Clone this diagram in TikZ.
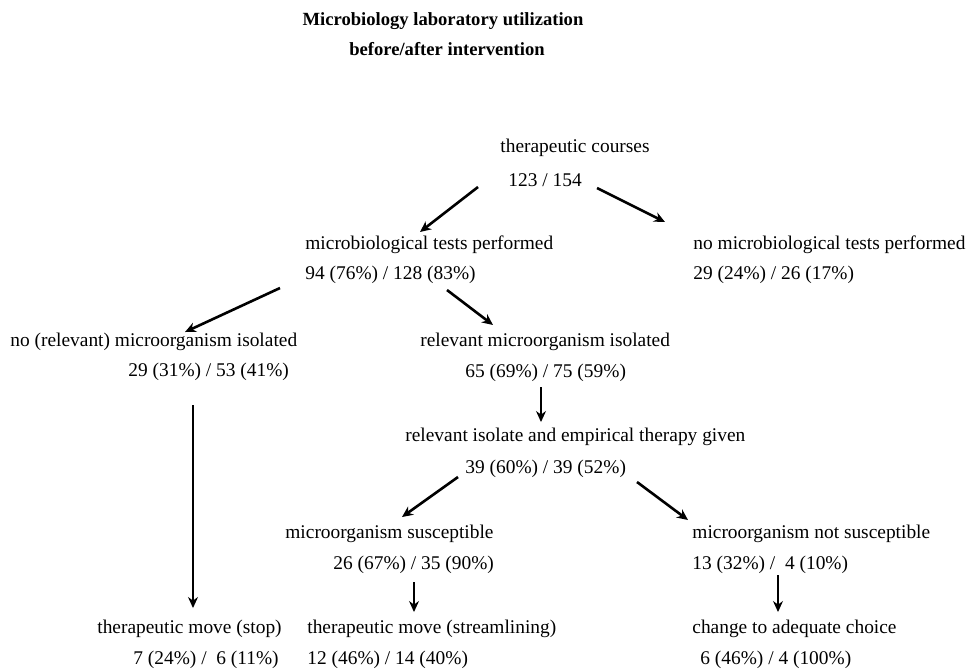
\documentclass[tikz,border=0pt]{standalone}
\usepackage{fontspec}
\setmainfont{Liberation Serif}
\usetikzlibrary{arrows.meta}

\begin{document}
\begin{tikzpicture}[x=0.5pt,y=-0.5pt,>={Stealth[length=5.5pt,width=5pt]},
        txt/.style={anchor=west,inner sep=0pt,font=\fontsize{9.7}{11}\selectfont},
        ttl/.style={inner sep=0pt,font=\fontsize{9.3}{11}\selectfont\bfseries},
        fat/.style={->,line width=1.3pt},
        thin/.style={->,line width=0.6pt}]
        \useasboundingbox (0,0) rectangle (979,671);
        	\node[ttl]  (ttl1) at (443,21)  {Microbiology laboratory utilization};
        	\node[ttl]  (ttl2) at (447,49)  {before/after intervention};

        	\node[txt]  (tc)   at (500,148) {therapeutic courses};
        	\node[txt]  (tcn)  at (508,180) {123 / 154};

           \node[txt]  (mtp)  at (305,245) {microbiological tests performed};
           \node[txt]  (mtpn) at (305,275) {94 (76\%) / 128 (83\%)};
           \node[txt]  (nmtp) at (693,245) {no microbiological tests performed};
           \node[txt]  (nmtpn) at (693,275) {29 (24\%) / 26 (17\%)};

           \node[txt]  (nrm)  at (10,342)  {no (relevant) microorganism isolated};
           \node[txt]  (nrmn) at (128,372) {29 (31\%) / 53 (41\%)};
           \node[txt]  (rmi)  at (420,342) {relevant microorganism isolated};
           \node[txt]  (rmin) at (465,373) {65 (69\%) / 75 (59\%)};

           \node[txt]  (rie)  at (405,437) {relevant isolate and empirical therapy given};
           \node[txt]  (rien) at (465,469) {39 (60\%) / 39 (52\%)};

           \node[txt]  (ms)   at (285,534) {microorganism susceptible};
           \node[txt]  (msn)  at (333,565) {26 (67\%) / 35 (90\%)};
           \node[txt]  (mns)  at (692,534) {microorganism not susceptible};
           \node[txt]  (mnsn) at (692,565) {13 (32\%) /\ \ 4 (10\%)};

           \node[txt]  (tms)  at (97,629)  {therapeutic move (stop)};
           \node[txt]  (tmsn) at (133,660) {7 (24\%) /\ \ 6 (11\%)};
           \node[txt]  (tmst) at (307,629) {therapeutic move (streamlining)};
           \node[txt]  (tmstn) at (307,660) {12 (46\%) / 14 (40\%)};
           \node[txt]  (cac)  at (692,629) {change to adequate choice};
           \node[txt]  (cacn) at (700,660) {6 (46\%) / 4 (100\%)};

  			% branches
  			\draw[fat] ([shift={(-30,7)}]tcn.west) -- ([shift={(115,-13)}]mtp.west);
  			\draw[fat] ([shift={(89,8)}]tcn.west) -- ([shift={(-28,-23)}]nmtp.west);
  			\draw[fat] ([shift={(-25,13)}]mtpn.west) -- ([shift={(175,-10)}]nrm.west);
  			\draw[fat] ([shift={(142,15)}]mtpn.west) -- ([shift={(73,-17)}]rmi.west);
  			\draw[thin] ([shift={(76,14)}]rmin.west) -- ([shift={(136,-15)}]rie.west);
  			\draw[fat] ([shift={(-7,8)}]rien.west) -- ([shift={(117,-17)}]ms.west);
  			\draw[fat] ([shift={(172,13)}]rien.west) -- ([shift={(-4,-14)}]mns.west);
  			% outcomes
  			\draw[thin] ([shift={(65,33)}]nrmn.west) -- ([shift={(96,-21)}]tms.west);
  			\draw[thin] ([shift={(81,17)}]msn.west) -- ([shift={(107,-17)}]tmst.west);
  			\draw[thin] ([shift={(86,10)}]mnsn.west) -- ([shift={(86,-17)}]cac.west);
\end{tikzpicture}
\end{document}
